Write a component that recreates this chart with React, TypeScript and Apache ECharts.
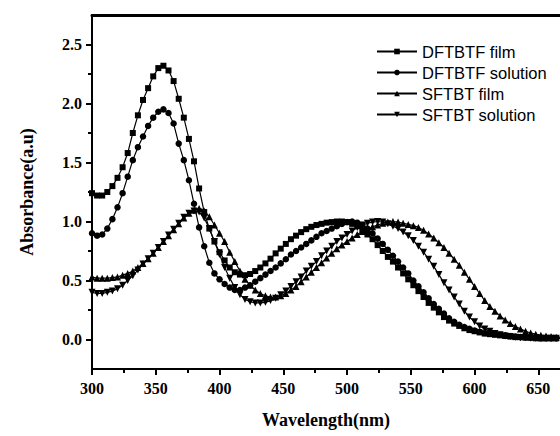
import React, { useEffect, useRef } from "react";
import * as echarts from "echarts";

const wavelengths = [
  300, 304, 308, 312, 316, 320, 324, 328, 332, 336,
  340, 344, 348, 352, 356, 360, 364, 368, 372, 376,
  380, 384, 388, 392, 396, 400, 404, 408, 412, 416,
  420, 424, 428, 432, 436, 440, 444, 448, 452, 456,
  460, 464, 468, 472, 476, 480, 484, 488, 492, 496,
  500, 504, 508, 512, 516, 520, 524, 528, 532, 536,
  540, 544, 548, 552, 556, 560, 564, 568, 572, 576,
  580, 584, 588, 592, 596, 600, 604, 608, 612, 616,
  620, 624, 628, 632, 636, 640, 644, 648, 652, 656,
  660, 664, 668,
];

const dftbtfFilm = [
  1.24, 1.22, 1.22, 1.25, 1.30, 1.37, 1.46, 1.58, 1.75, 1.90,
  2.03, 2.13, 2.23, 2.30, 2.32, 2.28, 2.19, 2.04, 1.88, 1.70,
  1.51, 1.28, 1.08, 0.94, 0.83, 0.74, 0.67, 0.61, 0.57, 0.55,
  0.545, 0.555, 0.58, 0.61, 0.645, 0.685, 0.73, 0.77, 0.81, 0.85,
  0.88, 0.91, 0.935, 0.955, 0.97, 0.98, 0.99, 0.995, 1.0, 1.0,
  0.995, 0.98, 0.96, 0.93, 0.89, 0.85, 0.80, 0.75, 0.70, 0.66,
  0.61, 0.56, 0.51, 0.46, 0.41, 0.36, 0.31, 0.27, 0.23, 0.19,
  0.16, 0.135, 0.115, 0.095, 0.08, 0.07, 0.06, 0.05, 0.045, 0.04,
  0.035, 0.03, 0.025, 0.02, 0.02, 0.015, 0.015, 0.01, 0.01, 0.01,
  0.01, 0.01, 0.01,
];

const dftbtfSolution = [
  0.90, 0.88, 0.89, 0.94, 1.02, 1.12, 1.24, 1.38, 1.52, 1.63,
  1.72, 1.81, 1.88, 1.93, 1.95, 1.92, 1.83, 1.66, 1.52, 1.35,
  1.15, 0.95, 0.79, 0.65, 0.56, 0.51, 0.47, 0.44, 0.42, 0.42,
  0.44, 0.46, 0.49, 0.52, 0.55, 0.58, 0.61, 0.645, 0.68, 0.72,
  0.75, 0.78, 0.81, 0.84, 0.87, 0.90, 0.92, 0.94, 0.96, 0.98,
  0.995, 1.0, 0.99, 0.97, 0.94, 0.90, 0.855, 0.81, 0.76, 0.71,
  0.66, 0.61, 0.56, 0.50, 0.45, 0.40, 0.35, 0.30, 0.26, 0.22,
  0.18, 0.15, 0.125, 0.105, 0.09, 0.075, 0.065, 0.055, 0.05, 0.045,
  0.04, 0.035, 0.03, 0.025, 0.02, 0.02, 0.015, 0.015, 0.01, 0.01,
  0.01, 0.01, 0.01,
];

const sftbtFilm = [
  0.53, 0.52, 0.52, 0.52, 0.525, 0.53, 0.545, 0.56, 0.58, 0.61,
  0.645, 0.685, 0.73, 0.78, 0.83, 0.88, 0.93, 0.98, 1.03, 1.07,
  1.095, 1.11, 1.09, 1.04, 0.97, 0.90, 0.83, 0.74, 0.66, 0.58,
  0.51, 0.46, 0.42, 0.39, 0.37, 0.36, 0.36, 0.37, 0.39, 0.42,
  0.45, 0.49, 0.53, 0.57, 0.61, 0.65, 0.69, 0.73, 0.77, 0.80,
  0.83, 0.86, 0.89, 0.915, 0.935, 0.955, 0.97, 0.985, 0.995, 1.0,
  0.995, 0.985, 0.975, 0.965, 0.95, 0.925, 0.895, 0.86, 0.82, 0.78,
  0.73, 0.68, 0.63, 0.57, 0.51, 0.45, 0.39, 0.33, 0.28, 0.24,
  0.20, 0.165, 0.135, 0.11, 0.09, 0.07, 0.055, 0.045, 0.035, 0.03,
  0.025, 0.02, 0.02,
];

const sftbtSolution = [
  0.40, 0.39, 0.39, 0.40, 0.41, 0.43, 0.46, 0.50, 0.54, 0.59,
  0.64, 0.685, 0.73, 0.78, 0.83, 0.885, 0.935, 0.985, 1.035, 1.07,
  1.09, 1.08, 1.03, 0.94, 0.83, 0.72, 0.61, 0.52, 0.44, 0.38,
  0.34, 0.32, 0.31, 0.31, 0.315, 0.33, 0.35, 0.38, 0.41, 0.45,
  0.49, 0.53, 0.58, 0.62, 0.66, 0.71, 0.75, 0.79, 0.83, 0.86,
  0.89, 0.92, 0.95, 0.97, 0.985, 0.995, 1.0, 0.995, 0.98, 0.96,
  0.94, 0.91, 0.88, 0.84, 0.79, 0.74, 0.68, 0.62, 0.55, 0.48,
  0.42, 0.36, 0.30, 0.24, 0.19, 0.15, 0.115, 0.09, 0.07, 0.05,
  0.04, 0.03, 0.025, 0.02, 0.015, 0.015, 0.01, 0.01, 0.01, 0.01,
  0.01, 0.01, 0.01,
];

const seriesNames = ["DFTBTF film", "DFTBTF solution", "SFTBT film", "SFTBT solution"];
const xMajorTicks = [300, 350, 400, 450, 500, 550, 600, 650];
const xMinorTicks = [325, 375, 425, 475, 525, 575, 625];
const yMajorTicks = [0, 0.5, 1.0, 1.5, 2.0, 2.5];
const yMinorTicks = [0.25, 0.75, 1.25, 1.75, 2.25];

const SERIF = "'Liberation Serif', 'Times New Roman', serif";
const SANS = "'Liberation Sans', Arial, sans-serif";
const DOWN_TRI = "path://M0,0 L10,0 L5,9 Z";
const TICK = "#000000";

export default function App() {
  const ref = useRef<HTMLDivElement>(null);

  useEffect(() => {
    if (!ref.current) return;
    const chart = echarts.init(ref.current, undefined, { renderer: "svg" });
    const pair = (ys: number[]) => wavelengths.map((x, i) => [x, ys[i]]);
    const seriesData = [dftbtfFilm, dftbtfSolution, sftbtFilm, sftbtSolution];
    const symbols = ["rect", "circle", "triangle", DOWN_TRI];
    const sizes = [6, 6.5, 7, 7];
    // all axes share identical min/max, so each series may reference any of them
    const xIdx = [0, 1, 2, 0];
    const yIdx = [0, 1, 0, 1];

    const xMin = 300;
    const xMax = 667;
    const yMin = -0.25;
    const yMax = 2.75;

    const option: any = {
      animation: false,
      backgroundColor: "#ffffff",
      grid: { left: 92, right: 0, top: 15, bottom: 67 },
      legend: {
        orient: "vertical",
        left: 371,
        top: 38,
        itemWidth: 40,
        itemHeight: 7,
        itemGap: 4,
        data: seriesNames,
        textStyle: { fontFamily: SANS, fontSize: 16.5, color: "#000" },
      },
      xAxis: [
        {
          type: "value",
          min: xMin,
          max: xMax,
          position: "bottom",
          name: "Wavelength(nm)",
          nameLocation: "middle",
          nameGap: 42,
          nameTextStyle: { fontFamily: SERIF, fontWeight: "bold", fontSize: 18, color: "#000" },
          axisLine: { show: true, onZero: false, lineStyle: { color: "#000", width: 2 } },
          axisTick: { show: true, length: 6, customValues: xMajorTicks, lineStyle: { color: TICK, width: 2 } },
          axisLabel: {
            customValues: xMajorTicks,
            fontFamily: SERIF,
            fontWeight: "bold",
            fontSize: 16,
            color: "#000",
            margin: 11,
          },
          splitLine: { show: false },
        },
        {
          type: "value",
          min: xMin,
          max: xMax,
          position: "bottom",
          axisLine: { show: false, onZero: false },
          axisTick: { show: true, length: 4, customValues: xMinorTicks, lineStyle: { color: TICK, width: 2 } },
          axisLabel: { show: false },
          splitLine: { show: false },
        },
        {
          type: "value",
          min: xMin,
          max: xMax,
          position: "top",
          axisLine: { show: true, onZero: false, lineStyle: { color: "#000", width: 3 } },
          axisTick: { show: false },
          axisLabel: { show: false },
          splitLine: { show: false },
        },
      ],
      yAxis: [
        {
          type: "value",
          min: yMin,
          max: yMax,
          position: "left",
          name: "Absorbance(a.u)",
          nameLocation: "middle",
          nameGap: 56,
          nameTextStyle: { fontFamily: SERIF, fontWeight: "bold", fontSize: 18, color: "#000" },
          axisLine: { show: true, onZero: false, lineStyle: { color: "#000", width: 2 } },
          axisTick: { show: true, length: 6, customValues: yMajorTicks, lineStyle: { color: TICK, width: 2 } },
          axisLabel: {
            customValues: yMajorTicks,
            formatter: (v: number) => v.toFixed(1),
            fontFamily: SERIF,
            fontWeight: "bold",
            fontSize: 16,
            color: "#000",
            margin: 10,
          },
          splitLine: { show: false },
        },
        {
          type: "value",
          min: yMin,
          max: yMax,
          position: "left",
          offset: 0,
          axisLine: { show: false, onZero: false },
          axisTick: { show: true, length: 4, customValues: yMinorTicks, lineStyle: { color: TICK, width: 2 } },
          axisLabel: { show: false },
          splitLine: { show: false },
        },
      ],
      series: seriesNames.map((name, i) => ({
        name,
        type: "line",
        xAxisIndex: xIdx[i],
        yAxisIndex: yIdx[i],
        data: pair(seriesData[i]),
        symbol: symbols[i],
        symbolSize: sizes[i],
        showSymbol: true,
        lineStyle: { color: "#000", width: 1.2 },
        itemStyle: { color: "#000" },
        clip: true,
        z: 10 - i,
      })),
    };

    chart.setOption(option);
    return () => chart.dispose();
  }, []);

  return (
    <div
      ref={ref}
      style={{ position: "absolute", left: 0, top: 0, width: 560, height: 436, background: "#fff" }}
    />
  );
}
